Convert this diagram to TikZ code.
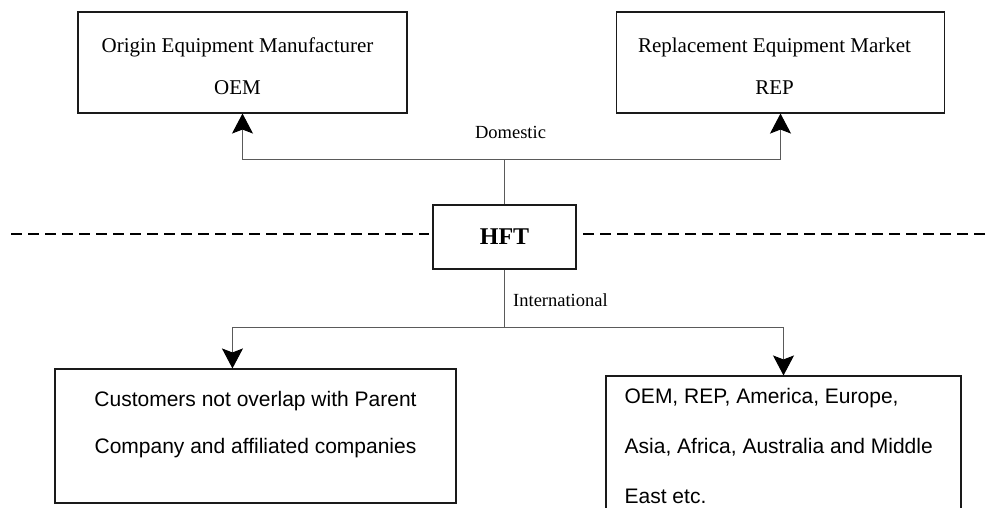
\documentclass[tikz,border=0pt]{standalone}
\usepackage{fontspec}
\setmainfont{Liberation Serif}
\setsansfont{Liberation Sans}
\usetikzlibrary{arrows.meta,positioning,calc}
\definecolor{edge}{HTML}{1A1A1A}
\definecolor{conn}{HTML}{5A5A5A}
\tikzset{
  box/.style={
    draw=edge, line width=1.1pt, inner sep=0pt
  },
  boxtxt/.style={
    inner sep=0pt, align=center,
    font=\fontsize{21}{42}\selectfont
  },
  sanstxt/.style={
    inner sep=0pt, font=\sffamily\fontsize{21}{47}\selectfont
  },
  lbl/.style={inner sep=0pt, font=\fontsize{18.5}{22}\selectfont},
  link/.style={draw=conn, line width=1pt},
  arrow/.style={link, -{Stealth[length=20pt, width=21pt, inset=4pt, color=black]}},
  divider/.style={draw=black, line width=2pt, dash pattern=on 11pt off 6pt}
}

\begin{document}
\begin{tikzpicture}[x=1pt, y=-1pt]
  \clip (0,0) rectangle (988,507);
  % top row: domestic markets
  \node[box, minimum width=329pt, minimum height=101pt] (oem) at (242.5,62.5) {};
  \node[boxtxt, below=26pt of oem.north, xshift=-5pt] (oemtxt)
    {Origin Equipment Manufacturer\\OEM};
  \node[box, minimum width=328pt, minimum height=101pt] (rep) at (780.5,62.5) {};
  \node[boxtxt, below=26pt of rep.north, xshift=-6pt] (reptxt)
    {Replacement Equipment Market\\REP};
  % company in the middle
  \node[box, minimum width=143pt, minimum height=64pt,
        font=\fontsize{24}{28}\selectfont\bfseries] (hft) at (504.5,237) {HFT};
  \coordinate (dl) at (11,234);
  \coordinate (dr) at (985,234);
  \draw[divider, shorten >=3pt] (dl) -- (dl -| hft.west);
  \draw[divider, shorten >=3pt] (dr) -- (dr -| hft.east);
  % bottom row: international markets
  \node[box, minimum width=401pt, minimum height=134pt] (cust) at (255.5,436) {};
  \node[sanstxt, align=center, below=23pt of cust.north] (custtxt)
    {Customers not overlap with Parent\\Company and affiliated companies};
  \node[box, minimum width=355pt, minimum height=150pt] (world) at (783.5,451) {};
  \node[sanstxt, align=left, font=\sffamily\fontsize{21}{50}\selectfont,
        below right=13pt and 19pt of world.north west] (worldtxt)
    {OEM, REP, America, Europe,\\Asia, Africa, Australia and Middle\\East etc.};
  % connectors
  \coordinate (dom) at (hft.north |- 0,159);
  \coordinate (intl) at (hft.south |- 0,327);
  \coordinate (custin) at ([xshift=178pt]cust.north west);
  \draw[link] (hft.north) -- (dom);
  \draw[arrow] (dom) -| (oem.south);
  \draw[arrow] (dom) -| (rep.south);
  \node[lbl, above=20pt of dom, xshift=6pt] (domlbl) {Domestic};
  \draw[link] (hft.south) -- (intl);
  \draw[arrow] (intl) -| (custin);
  \draw[arrow] (intl) -| (world.north);
  \node[lbl, anchor=west] (intllbl) at (513,300) {International};
\end{tikzpicture}
\end{document}
